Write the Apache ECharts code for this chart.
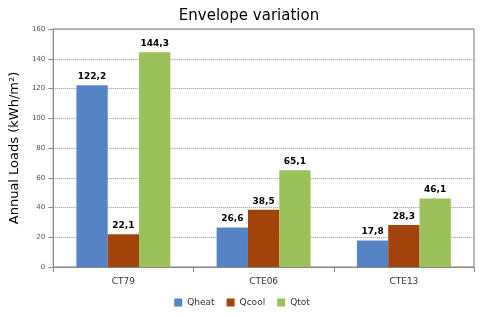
<!DOCTYPE html>
<html><head><meta charset="utf-8">
<script src="https://cdn.jsdelivr.net/npm/echarts@6/dist/echarts.min.js"></script>
<style>html,body{margin:0;padding:0;background:#fff}#c{width:484px;height:318px}</style>
</head><body><div id="c"></div>
<script>
var categories = ['CT79', 'CTE06', 'CTE13'];
var qheat = [122.2, 26.6, 17.8];
var qcool = [22.1, 38.5, 28.3];
var qtot = [144.3, 65.1, 46.1];
var seriesNames = ['Qheat', 'Qcool', 'Qtot'];
var yTicks = [0, 20, 40, 60, 80, 100, 120, 140, 160];

var colors = ['#5583c4', '#a3430c', '#9cc15a'];
var fmt = function (p) { return p.value.toFixed(1).replace('.', ','); };
function mk(name, data, color) {
  return {
    name: name, type: 'bar', data: data, barGap: '0%', barCategoryGap: '33%',
    itemStyle: { color: color },
    label: { show: true, position: 'top', formatter: fmt, fontSize: 9, fontWeight: 'bold', color: '#000', fontFamily: 'DejaVu Sans', distance: 4 }
  };
}
var chart = echarts.init(document.getElementById('c'));
chart.setOption({
  animation: false,
  title: { text: 'Envelope variation', left: 244, top: 4, textAlign: 'center',
    textStyle: { fontFamily: 'DejaVu Sans', fontSize: 15, fontWeight: 'normal', color: '#000' } },
  grid: { left: 49, right: 10, top: 29, bottom: 51, show: true, borderColor: '#777', borderWidth: 1 },
  legend: { data: seriesNames, bottom: 6, left: 'center', itemWidth: 8, itemHeight: 8, itemGap: 12,
    icon: 'rect', textStyle: { fontSize: 9, color: '#333', fontFamily: 'DejaVu Sans' } },
  xAxis: { type: 'category', data: categories,
    axisLine: { lineStyle: { color: '#888' } },
    axisTick: { show: true, lineStyle: { color: '#888' } },
    axisLabel: { fontSize: 9, color: '#333', fontFamily: 'DejaVu Sans', margin: 10 } },
  yAxis: { type: 'value', min: yTicks[0], max: yTicks[yTicks.length - 1], interval: 20,
    name: 'Annual Loads (kWh/m²)', nameLocation: 'middle', nameGap: 31,
    nameTextStyle: { fontSize: 13, color: '#000', fontFamily: 'DejaVu Sans' },
    axisLine: { show: true, lineStyle: { color: '#888' } },
    axisTick: { show: true, lineStyle: { color: '#888' } },
    axisLabel: { fontSize: 7, color: '#555', fontFamily: 'DejaVu Sans' },
    splitLine: { lineStyle: { color: '#999', type: 'dotted' } } },
  series: [mk(seriesNames[0], qheat, colors[0]), mk(seriesNames[1], qcool, colors[1]), mk(seriesNames[2], qtot, colors[2])]
});
</script></body></html>
